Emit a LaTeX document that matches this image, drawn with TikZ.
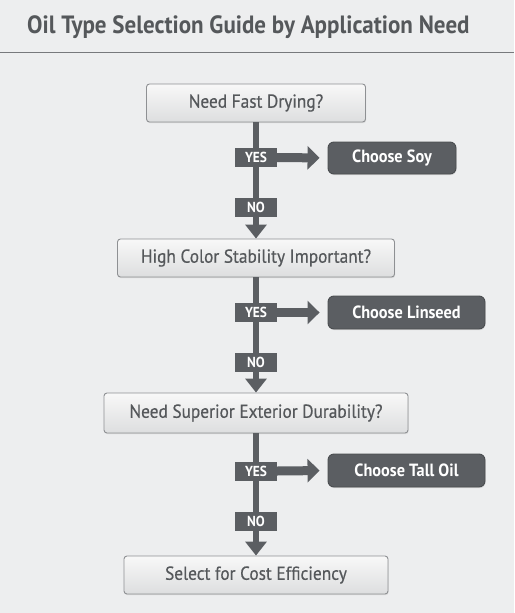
\documentclass[tikz,border=0pt]{standalone}
\usepackage{fontspec}
\setmainfont[FakeStretch=0.92]{PT Sans}
\newfontfamily\medfont[FakeStretch=0.92,FakeBold=0.5]{PT Sans}
\usetikzlibrary{arrows.meta,shadows}
\definecolor{bg}{HTML}{EDEEEF}
\definecolor{txt}{HTML}{55585B}
\definecolor{dark}{HTML}{5B5E62}
\definecolor{darkb}{HTML}{4A4D50}
\definecolor{lborder}{HTML}{8E9093}
\definecolor{ltop}{HTML}{F8F8F8}
\definecolor{lbot}{HTML}{DDDEDF}
\definecolor{rule}{HTML}{77797C}
\tikzset{
  qbox/.style={draw=lborder, line width=0.9pt, rounded corners=3pt, top color=ltop, bottom color=lbot,
    text=txt, font=\medfont\fontsize{18.8}{22}\selectfont, inner sep=0pt,
    drop shadow={shadow xshift=0.6pt, shadow yshift=-1.2pt, opacity=0.18}},
  abox/.style={draw=darkb, line width=0.9pt, rounded corners=6pt, fill=dark,
    text=white, font=\bfseries\fontsize{17.7}{20}\selectfont, inner sep=0pt,
    drop shadow={shadow xshift=0.6pt, shadow yshift=-1.2pt, opacity=0.18}},
  tag/.style={fill=dark, text=white, font=\bfseries\fontsize{14.5}{16}\selectfont, inner sep=0pt,
    minimum width=42pt, minimum height=19pt},
  vflow/.style={draw=dark, line width=6pt, -{Triangle[width=21pt,length=14pt]}},
  hflow/.style={draw=dark, line width=9pt, -{Triangle[width=23pt,length=12pt]}, shorten >=8pt},
}
\begin{document}
\begin{tikzpicture}[x=1pt,y=-1pt]
\fill[bg] (0,0) rectangle (514,613);
\useasboundingbox (0,0) rectangle (514,613);
\node[text=txt, font=\bfseries\fontsize{25}{28}\selectfont, anchor=west, inner sep=0pt] (title) at (27,27) {Oil Type Selection Guide by Application Need};
\coordinate (rl) at (0,52.5);
\coordinate (rr) at (514,52.5);
\draw[rule, line width=1.3pt] (rl) -- (rr);

\node[qbox, minimum width=219pt, minimum height=38pt] (q1) at (256,103) {Need Fast Drying?};
\node[qbox, minimum width=277pt, minimum height=38pt] (q2) at (256,258) {High Color Stability Important?};
\node[qbox, minimum width=304pt, minimum height=40pt] (q3) at (256,413) {Need Superior Exterior Durability?};
\node[qbox, minimum width=264pt, minimum height=38pt] (q4) at (256,575) {Select for Cost Efficiency};

\node[abox, minimum width=128pt, minimum height=32pt] (a1) at (392,158) {Choose Soy};
\node[abox, minimum width=157pt, minimum height=33pt] (a2) at (406.5,312.5) {Choose Linseed};
\node[abox, minimum width=157pt, minimum height=33pt] (a3) at (406.5,470.5) {Choose Tall Oil};

\draw[vflow] (q1.south) -- (q2.north);
\draw[vflow] (q2.south) -- (q3.north);
\draw[vflow] (q3.south) -- (q4.north);

\node[tag] (y1) at (256,157.5) {YES};
\node[tag] (n1) at (256,207) {NO};
\node[tag] (y2) at (256,312.5) {YES};
\node[tag] (n2) at (256,362) {NO};
\node[tag] (y3) at (256,471) {YES};
\node[tag] (n3) at (256,521) {NO};

\draw[hflow] (y1.east) -- (a1.west);
\draw[hflow] (y2.east) -- (a2.west);
\draw[hflow] (y3.east) -- (a3.west);
\end{tikzpicture}
\end{document}
